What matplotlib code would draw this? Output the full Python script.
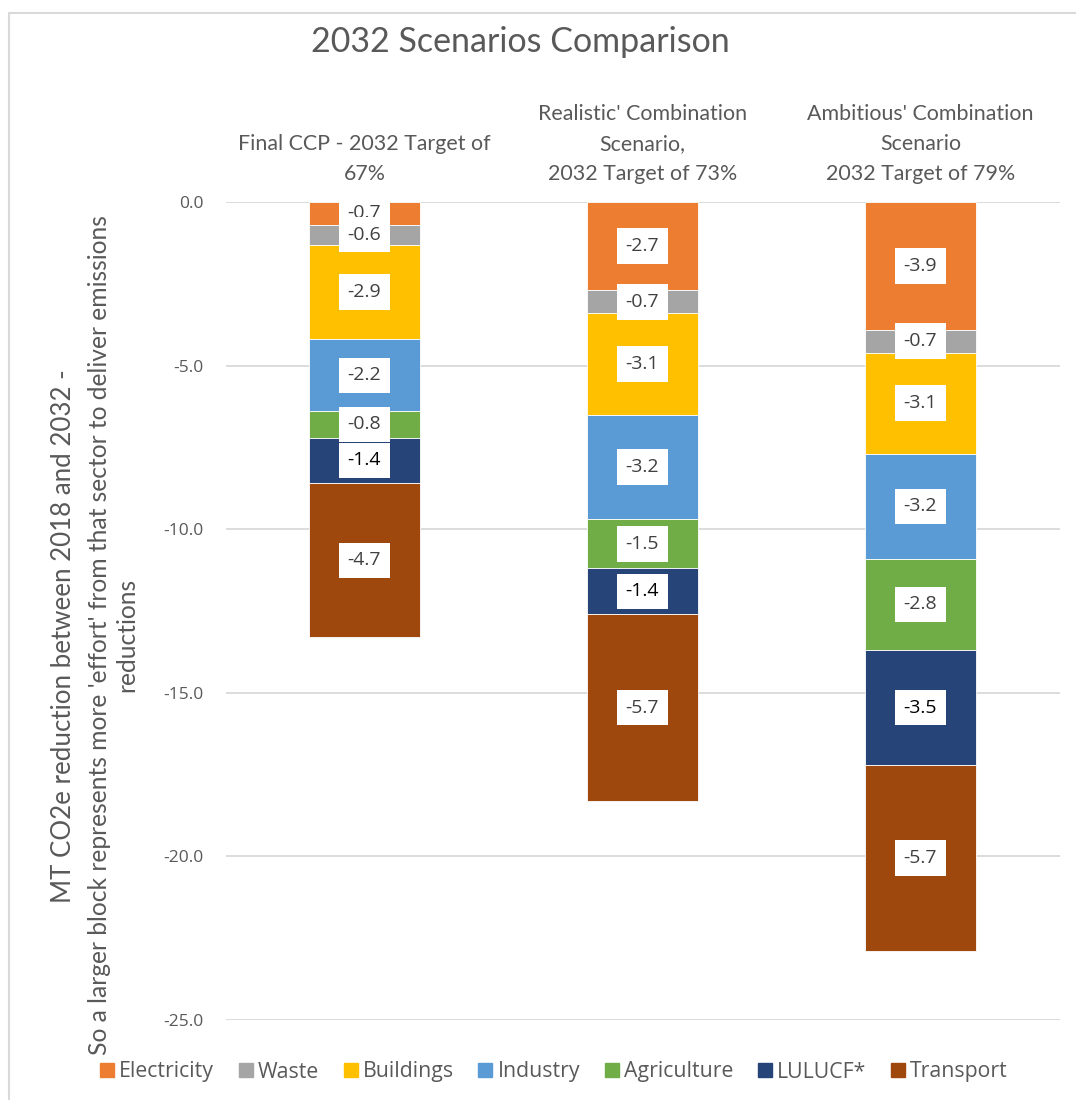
import matplotlib
matplotlib.use("Agg")
import matplotlib.pyplot as plt
import numpy as np
from matplotlib.patches import Rectangle

categories = ["Final CCP - 2032 Target of\n67%",
              "Realistic' Combination\nScenario,\n2032 Target of 73%",
              "Ambitious' Combination\nScenario\n2032 Target of 79%"]
sectors = ["Electricity", "Waste", "Buildings", "Industry", "Agriculture", "LULUCF*", "Transport"]
electricity = [-0.7, -2.7, -3.9]
waste = [-0.6, -0.7, -0.7]
buildings = [-2.9, -3.1, -3.1]
industry = [-2.2, -3.2, -3.2]
agriculture = [-0.8, -1.5, -2.8]
lulucf = [-1.4, -1.4, -3.5]
transport = [-4.7, -5.7, -5.7]
series = [electricity, waste, buildings, industry, agriculture, lulucf, transport]
colors = ["#ED7D31", "#A5A5A5", "#FFC000", "#5B9BD5", "#70AD47", "#264478", "#9E480E"]
label_colors = ["#404040"] * 5 + ["#000000", "#404040"]
yticks = [0, -5, -10, -15, -20, -25]

W, H = 1076, 1100
fig = plt.figure(figsize=(W / 100, H / 100), dpi=100)
TF = "Lato"
NF = "Open Sans"

# chart border
fig.patches.append(Rectangle((9 / W, -0.01), (1090) / W, 1 - 13 / H + 0.01,
                             transform=fig.transFigure, fill=False,
                             edgecolor="#D9D9D9", linewidth=1.5))

left, right = 225.5, 1059.5
top, bottom = 202, 1020
ax = fig.add_axes([left / W, 1 - bottom / H, (right - left) / W, (bottom - top) / H])
ax.set_xlim(-0.5, 2.5)
ax.set_ylim(-25, 0)

x = np.arange(len(categories))
base = np.zeros(len(categories))
for vals, c, lc in zip(series, colors, label_colors):
    vals = np.array(vals)
    ax.bar(x, vals, bottom=base, width=0.4, color=c, edgecolor="white",
           linewidth=0.6, zorder=3)
    for xi, b, v in zip(x, base, vals):
        ax.text(xi, b + v / 2, f"{v:.1f}", ha="center", va="center",
                fontsize=14, color=lc, family=NF, zorder=5,
                bbox=dict(boxstyle="square,pad=0.45", fc="white", ec="none"))
    base = base + vals

ax.set_yticks(yticks)
ax.set_yticklabels([f"{t:.1f}" for t in yticks], family=NF, fontsize=12.5, color="#595959")
ax.tick_params(axis="y", length=0, pad=16)
ax.set_xticks([])
for s in ax.spines.values():
    s.set_visible(False)
ax.grid(axis="y", color="#D9D9D9", linewidth=1.3, zorder=0)
ax.set_axisbelow(True)

# category labels on top
for xi, cat in zip(x, categories):
    ax.annotate(cat, xy=(xi, 0), xycoords="data", xytext=(0, 13),
                textcoords="offset points", ha="center", va="bottom",
                fontsize=15.4, family=TF, color="#595959", linespacing=1.62)

fig.text(520 / W, 1 - 42 / H, "2032 Scenarios Comparison", ha="center", va="center",
         fontsize=24.5, family=TF, color="#595959")

fig.text(64 / W, 1 - 636 / H, "MT CO2e reduction between 2018 and 2032 -",
         rotation=90, ha="center", va="center", fontsize=18.6, family=TF, color="#595959")
fig.text(113 / W, 1 - 635 / H,
         "So a larger block represents more 'effort' from that sector to deliver emissions\nreductions",
         rotation=90, ha="center", va="center", fontsize=17.7, family=TF, color="#595959",
         linespacing=1.2)

# legend
handles = [Rectangle((0, 0), 1, 1, color=c) for c in colors]
fig.legend(handles, sectors, loc="center", bbox_to_anchor=(554 / W, 1 - 1072 / H),
           ncol=7, frameon=False, prop={"family": NF, "size": 15.3},
           handlelength=0.66, handleheight=0.66, handletextpad=0.25, columnspacing=1.15,
           labelcolor="#595959")

fig.savefig("out.png", dpi=100)
